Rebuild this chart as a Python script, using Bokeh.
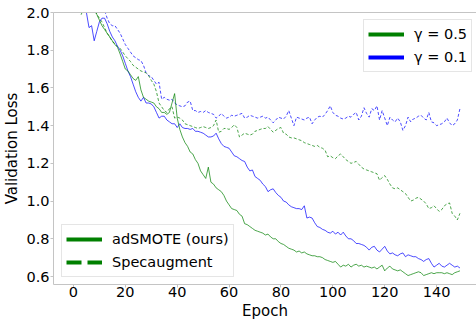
import numpy as np
from bokeh.plotting import figure
from bokeh.models import (Range1d, FixedTicker, LinearAxis, Legend, LegendItem,
                          ColumnDataSource, PrintfTickFormatter, Title)
from bokeh.embed import file_html
from bokeh.resources import INLINE

epochs = list(range(150))

adsmote_g05 = [
    2.45, 2.38, 2.30, 2.22, 2.18, 2.12, 2.08, 2.05, 2.03, 1.99,
    1.96, 1.93, 1.91, 1.89, 1.87, 1.85, 1.83, 1.815, 1.78, 1.74,
    1.70, 1.69, 1.67, 1.65, 1.64, 1.66, 1.59, 1.55, 1.54, 1.53,
    1.525, 1.52, 1.50, 1.49, 1.47, 1.47, 1.46, 1.47, 1.52, 1.57,
    1.44, 1.38, 1.34, 1.31, 1.29, 1.26, 1.25, 1.22, 1.20, 1.16,
    1.14, 1.12, 1.18, 1.10, 1.09, 1.07, 1.06, 1.05, 1.03, 1.00,
    0.98, 0.96, 0.955, 0.95, 0.93, 0.92, 0.88, 0.875, 0.865, 0.855,
    0.845, 0.84, 0.835, 0.83, 0.82, 0.825, 0.81, 0.80, 0.80, 0.785,
    0.775, 0.77, 0.76, 0.75, 0.745, 0.74, 0.73, 0.735, 0.725, 0.73,
    0.72, 0.715, 0.71, 0.71, 0.705, 0.705, 0.70, 0.69, 0.685, 0.68,
    0.675, 0.68, 0.665, 0.65, 0.66, 0.655, 0.665, 0.65, 0.66, 0.665,
    0.655, 0.66, 0.65, 0.655, 0.65, 0.645, 0.65, 0.64, 0.65, 0.66,
    0.63, 0.645, 0.655, 0.64, 0.635, 0.63, 0.635, 0.625, 0.615, 0.605,
    0.61, 0.615, 0.62, 0.625, 0.62, 0.605, 0.61, 0.615, 0.62, 0.615,
    0.62, 0.62, 0.62, 0.615, 0.62, 0.615, 0.61, 0.62, 0.625, 0.63,
]

adsmote_g01 = [
    2.35, 2.28, 2.20, 2.12, 2.06, 2.00, 1.92, 1.93, 1.85, 1.90,
    1.95, 1.97, 1.97, 1.94, 1.90, 1.87, 1.85, 1.82, 1.80, 1.77,
    1.73, 1.69, 1.66, 1.62, 1.58, 1.55, 1.53, 1.55, 1.52, 1.52,
    1.515, 1.50, 1.47, 1.44, 1.45, 1.45, 1.43, 1.42, 1.41, 1.41,
    1.39, 1.41, 1.39, 1.385, 1.385, 1.38, 1.385, 1.37, 1.37, 1.365,
    1.36, 1.35, 1.34, 1.34, 1.345, 1.36, 1.33, 1.305, 1.29, 1.285,
    1.28, 1.26, 1.24, 1.235, 1.225, 1.215, 1.21, 1.18, 1.16, 1.165,
    1.13, 1.12, 1.11, 1.09, 1.077, 1.05, 1.06, 1.065, 1.045, 1.03,
    1.02, 1.00, 0.995, 0.98, 0.97, 0.965, 0.96, 0.96, 0.955, 0.975,
    0.91, 0.915, 0.91, 0.885, 0.865, 0.86, 0.85, 0.845, 0.835, 0.83,
    0.84, 0.825, 0.835, 0.82, 0.835, 0.815, 0.80, 0.80, 0.79, 0.775,
    0.775, 0.77, 0.765, 0.755, 0.74, 0.755, 0.76, 0.74, 0.73, 0.745,
    0.76, 0.735, 0.72, 0.725, 0.715, 0.71, 0.72, 0.725, 0.705, 0.715,
    0.71, 0.705, 0.705, 0.695, 0.69, 0.68, 0.69, 0.695, 0.67, 0.65,
    0.66, 0.67, 0.655, 0.65, 0.66, 0.67, 0.66, 0.65, 0.655, 0.645,
]

specaug_g05 = [
    2.20, 2.10, 2.03, 1.99, 2.02, 2.05, 2.04, 2.03, 2.01, 1.99,
    1.97, 1.95, 1.92, 1.89, 1.87, 1.845, 1.835, 1.82, 1.81, 1.79,
    1.77, 1.755, 1.74, 1.72, 1.71, 1.70, 1.69, 1.685, 1.68, 1.665,
    1.64, 1.62, 1.58, 1.52, 1.50, 1.48, 1.47, 1.49, 1.50, 1.44,
    1.445, 1.44, 1.43, 1.41, 1.405, 1.40, 1.395, 1.39, 1.385, 1.39,
    1.395, 1.39, 1.385, 1.39, 1.40, 1.43, 1.365, 1.37, 1.385, 1.385,
    1.38, 1.39, 1.405, 1.39, 1.34, 1.35, 1.36, 1.355, 1.35, 1.355,
    1.37, 1.375, 1.38, 1.385, 1.385, 1.395, 1.38, 1.365, 1.375, 1.385,
    1.39, 1.36, 1.355, 1.34, 1.335, 1.335, 1.33, 1.325, 1.32, 1.31,
    1.305, 1.30, 1.295, 1.29, 1.295, 1.285, 1.28, 1.27, 1.235, 1.24,
    1.23, 1.225, 1.24, 1.25, 1.235, 1.22, 1.21, 1.20, 1.205, 1.21,
    1.195, 1.18, 1.17, 1.165, 1.16, 1.155, 1.15, 1.145, 1.11, 1.125,
    1.135, 1.115, 1.09, 1.07, 1.065, 1.07, 1.06, 1.05, 1.04, 1.02,
    1.00, 1.005, 1.015, 1.02, 1.01, 1.00, 0.985, 0.96, 0.965, 0.975,
    0.96, 0.945, 0.955, 0.975, 0.985, 0.99, 0.935, 0.92, 0.90, 0.935,
]

specaug_g01 = [
    2.45, 2.40, 2.35, 2.30, 2.25, 2.20, 2.16, 2.12, 2.09, 2.06,
    2.04, 2.03, 2.01, 1.97, 1.94, 1.93, 1.93, 1.91, 1.89, 1.86,
    1.83, 1.81, 1.79, 1.77, 1.76, 1.75, 1.745, 1.72, 1.68, 1.665,
    1.66, 1.64, 1.62, 1.63, 1.54, 1.55, 1.54, 1.535, 1.54, 1.52,
    1.51, 1.505, 1.50, 1.505, 1.525, 1.53, 1.48, 1.48, 1.47, 1.475,
    1.47, 1.48, 1.47, 1.465, 1.46, 1.44, 1.45, 1.465, 1.45, 1.44,
    1.445, 1.455, 1.45, 1.455, 1.46, 1.465, 1.44, 1.445, 1.455, 1.45,
    1.445, 1.44, 1.445, 1.45, 1.44, 1.445, 1.43, 1.415, 1.43, 1.445,
    1.44, 1.435, 1.45, 1.48, 1.44, 1.40, 1.445, 1.44, 1.435, 1.43,
    1.44, 1.445, 1.41, 1.43, 1.445, 1.45, 1.445, 1.46, 1.48, 1.505,
    1.47, 1.455, 1.45, 1.44, 1.435, 1.44, 1.45, 1.445, 1.46, 1.47,
    1.43, 1.45, 1.495, 1.465, 1.445, 1.49, 1.48, 1.505, 1.43, 1.48,
    1.44, 1.40, 1.445, 1.43, 1.42, 1.44, 1.42, 1.375, 1.40, 1.445,
    1.42, 1.435, 1.44, 1.45, 1.455, 1.44, 1.43, 1.47, 1.42, 1.415,
    1.40, 1.405, 1.41, 1.42, 1.44, 1.415, 1.40, 1.41, 1.43, 1.49,
]

x_ticks = [0, 20, 40, 60, 80, 100, 120, 140]
y_ticks = [0.6, 0.8, 1.0, 1.2, 1.4, 1.6, 1.8, 2.0]
gamma_labels = ["γ = 0.5", "γ = 0.1"]
method_labels = ["adSMOTE (ours)", "Specaugment"]
x_title = "Epoch"
y_title = "Validation Loss"

GREEN = "#008000"
BLUE = "#0000ff"
SPINE = "#c4c4c4"
FONT = "DejaVu Sans"
FS = "14.5px"

p = figure(width=476, height=320, output_backend="svg", toolbar_location=None,
           x_range=Range1d(-7.69, 155.38), y_range=Range1d(0.5576, 2.0),
           min_border_left=52, min_border_right=0, min_border_top=12,
           min_border_bottom=36)
p.outline_line_color = None
p.xgrid.visible = False
p.ygrid.visible = False
p.background_fill_color = "white"
p.border_fill_color = "white"

for ax, ticks in ((p.xaxis[0], x_ticks), (p.yaxis[0], y_ticks)):
    ax.ticker = FixedTicker(ticks=ticks)
    ax.minor_tick_line_color = None
    ax.major_tick_in = 0
    ax.major_tick_out = 3
    ax.major_tick_line_color = SPINE
    ax.axis_line_color = SPINE
    ax.major_label_text_font = FONT
    ax.major_label_text_font_size = FS
    ax.major_label_text_color = "black"
    ax.major_label_standoff = 1

p.yaxis[0].formatter = PrintfTickFormatter(format="%.1f")
p.xaxis.major_label_standoff = -1
p.yaxis.axis_label = y_title
p.yaxis.axis_label_standoff = 2
p.yaxis.axis_label_text_font = FONT
p.yaxis.axis_label_text_font_size = "15px"
p.yaxis.axis_label_text_font_style = "normal"
p.yaxis.axis_label_text_color = "black"

top = LinearAxis(ticker=FixedTicker(ticks=[]), axis_line_color=SPINE,
                 major_tick_out=0, major_tick_in=0, minor_tick_out=0,
                 minor_tick_in=0, major_label_text_font_size="0px",
                 major_label_standoff=0)
p.add_layout(top, "above")

p.add_layout(Title(text=x_title, align="center", text_font=FONT,
                   text_font_size="15px", text_font_style="normal",
                   text_color="black", standoff=0, offset=2), "below")

src = ColumnDataSource(dict(x=epochs, a05=adsmote_g05, a01=adsmote_g01,
                            s05=specaug_g05, s01=specaug_g01))
lw = 1.0
al = 0.7
p.line("x", "s01", source=src, color=BLUE, line_width=lw, alpha=al, line_dash="3 2")
p.line("x", "s05", source=src, color=GREEN, line_width=lw, alpha=al, line_dash="3 2")
p.line("x", "a01", source=src, color=BLUE, line_width=lw, alpha=al)
p.line("x", "a05", source=src, color=GREEN, line_width=lw, alpha=al)

nan = [float("nan")]
d_g = p.line(x=nan, y=nan, color=GREEN, line_width=4)
d_b = p.line(x=nan, y=nan, color=BLUE, line_width=4)
d_solid = p.line(x=nan, y=nan, color=GREEN, line_width=4)
d_dash = p.line(x=nan, y=nan, color=GREEN, line_width=4, line_dash="15 6")

def make_legend(items, loc):
    lg = Legend(items=items, location=loc, margin=0, padding=4, spacing=3,
                glyph_width=36, glyph_height=20, label_height=20,
                label_standoff=10, label_text_font=FONT,
                label_text_font_size=FS, label_text_color="black",
                border_line_color="#cccccc", border_line_width=1,
                background_fill_color="white", background_fill_alpha=0.8)
    return lg

lg1 = make_legend([LegendItem(label=gamma_labels[0], renderers=[d_g]),
                   LegendItem(label=gamma_labels[1], renderers=[d_b])],
                  (310, 212))
lg2 = make_legend([LegendItem(label=method_labels[0], renderers=[d_solid]),
                   LegendItem(label=method_labels[1], renderers=[d_dash])],
                  (8, 7))
p.add_layout(lg1, "center")
p.add_layout(lg2, "center")

open("out.html", "w").write(file_html(p, INLINE))
